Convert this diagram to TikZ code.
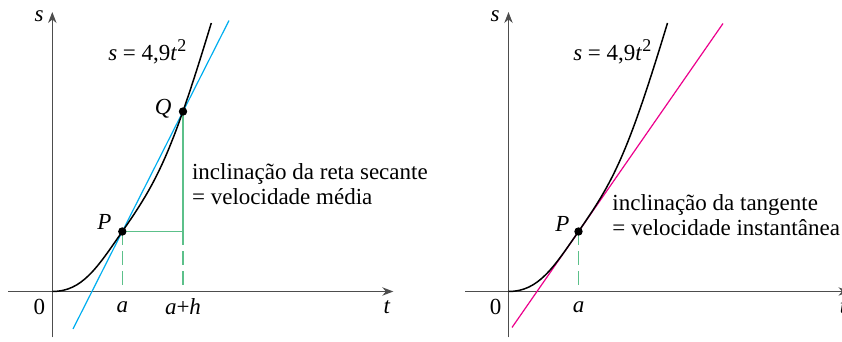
\documentclass[tikz,border=0pt]{standalone}
\usepackage{fontspec}
\setmainfont{Liberation Serif}
\usetikzlibrary{arrows.meta,calc}
\definecolor{axisgray}{HTML}{4D4D4D}
\definecolor{secantblue}{HTML}{00AEEF}
\definecolor{tangentmag}{HTML}{EC008C}
\definecolor{guidegreen}{HTML}{5CC08A}
\newcommand{\vr}[1]{\textit{#1}}
\newcommand{\sqr}{\raisebox{0.85ex}{\fontsize{9}{9}\selectfont 2}}

\begin{document}
\begin{tikzpicture}[x=0.5pt, y=0.5pt, font=\fontsize{11.5}{12.5}\selectfont,
		axis/.style={draw=axisgray, line width=0.55pt, -{Stealth[length=5.5pt,width=4.2pt]}},
		curve/.style={line width=0.75pt, black},
		guide/.style={draw=guidegreen, line width=0.6pt},
		guidedash/.style={guide, dash pattern=on 7pt off 3pt},
		dot/.style={circle, fill=black, inner sep=0pt, minimum size=4.2pt},
		lbl/.style={inner sep=0pt}]
	\useasboundingbox (-52.3,-50.5) rectangle (789.7,291.5);

	% ---- left panel: secant line ----
	\coordinate (O1) at (0,0);
	\draw[axis] (0,-46) -- (0,279.5);
	\draw[axis] (-44,0) -- (341,0);
	\node[lbl] (s1) at (-13.3,275.5) {\vr{s}};
	\node[lbl] (t1) at (334.7,-15.5) {\vr{t}};
	\node[lbl] (z1) at (-13,-15) {0};

	\coordinate (P1) at (70,60);
	\coordinate (Q1) at (130.7,180);
	\coordinate (R1) at (130.7,60);
	\coordinate (A1) at (70,0);
	\coordinate (H1) at (130.7,0);

	% secant through P and Q
	\draw[secantblue, line width=0.6pt] ($(P1)!-0.812!(Q1)$) -- ($(P1)!1.758!(Q1)$);

	% green guides
	\draw[guide] (P1) -- (R1) -- (Q1);
	\draw[guidedash] (P1) -- (A1);
	\draw[guidedash] (R1) -- (H1);

	% s = 4,9t^2
	\draw[curve] (O1) .. controls (30,0) and (45,24) .. (P1)
		.. controls (105,110.4) and (119,136.5) .. (159,268.5);

	\node[dot] (p1) at (P1) {};
	\node[dot] (q1) at (Q1) {};
	\node[lbl] (Plbl1) at (52,69.5) {\vr{P}};
	\node[lbl] (Qlbl1) at (111,183) {\vr{Q}};
	\node[lbl] (a1) at (70,-15.5) {\vr{a}};
	\node[lbl] (ah1) at (130.7,-15.5) {\vr{a}+\vr{h}};
	\node[lbl, anchor=east] (eq1) at (134.4,240) {\vr{s} = 4,9\vr{t}\sqr};
	\node[lbl, anchor=west, align=left] (sec) at (139.4,107.5)
		{inclinação da reta secante\\= velocidade média};

	% ---- right panel: tangent line ----
	\begin{scope}[xshift=228.1pt]
		\coordinate (O2) at (0,0);
		\draw[axis] (0,-46) -- (0,279.5);
		\draw[axis] (-43.5,0) -- (341,0);
		\node[lbl] (s2) at (-13.3,275.5) {\vr{s}};
		\node[lbl] (t2) at (334.7,-15.5) {\vr{t}};
		\node[lbl] (z2) at (-13,-15) {0};

		\coordinate (P2) at (70,60);
		\coordinate (A2) at (70,0);
		\coordinate (T2a) at (3.5,-36);
		\coordinate (T2b) at (214.5,268);

		\draw[tangentmag, line width=0.6pt] (T2a) -- (T2b);
		\draw[guidedash] (P2) -- (A2);

		\draw[curve] (O2) .. controls (30,0) and (45,24) .. (P2)
			.. controls (105,110.4) and (119,136.5) .. (159,268.5);

		\node[dot] (p2) at (P2) {};
		\node[lbl] (Plbl2) at (54,68) {\vr{P}};
		\node[lbl] (a2) at (70,-15.5) {\vr{a}};
		\node[lbl, anchor=east] (eq2) at (143.2,240) {\vr{s} = 4,9\vr{t}\sqr};
		\node[lbl, anchor=west, align=left] (tan) at (103.5,76)
			{inclinação da tangente\\= velocidade instantânea};
	\end{scope}
\end{tikzpicture}
\end{document}
